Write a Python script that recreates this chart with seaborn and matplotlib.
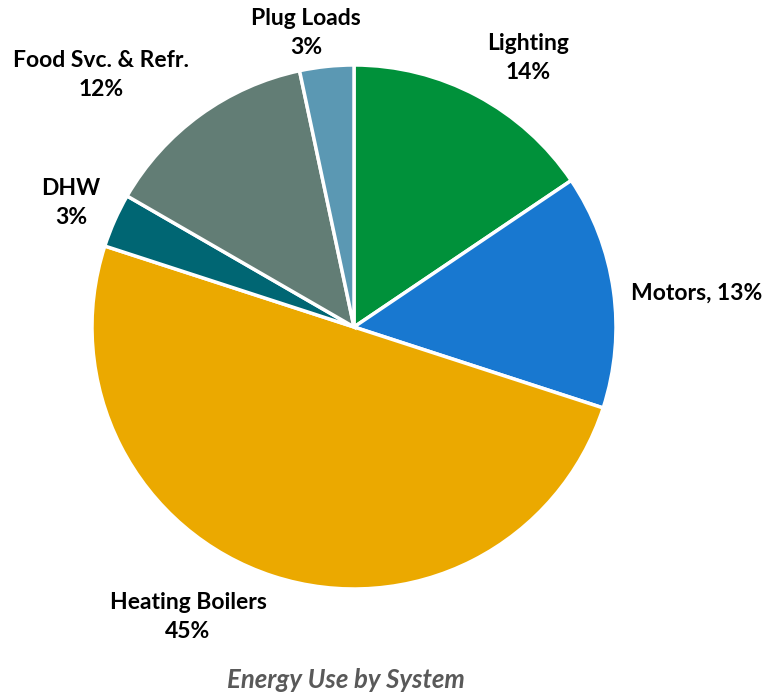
import matplotlib
matplotlib.use("Agg")
import matplotlib.pyplot as plt
import seaborn as sns

# Energy use shares by system, in percent
systems = ["Lighting", "Motors", "Heating Boilers", "DHW", "Food Svc. & Refr.", "Plug Loads"]
shares = [14, 13, 45, 3, 12, 3]
colors = ["#00913A", "#1878D0", "#EBA900", "#006673", "#627D75", "#5B98B3"]

sns.set_theme(style="white")
plt.rcParams["font.family"] = ["Lato", "DejaVu Sans"]

W, H = 765, 693
fig = plt.figure(figsize=(W / 100, H / 100), dpi=100)

# pie placed by pixel centre and radius
cx, cy, r = 354, 327, 262
ax = fig.add_axes([(cx - r) / W, 1 - (cy + r) / H, 2 * r / W, 2 * r / H])
ax.pie(shares, colors=colors, startangle=90, counterclock=False, radius=1,
       wedgeprops=dict(edgecolor="white", linewidth=2.5))
ax.set_xlim(-1, 1)
ax.set_ylim(-1, 1)
ax.set_aspect("equal")
ax.axis("off")

def label(text, x, y, **kw):
    fig.text(x / W, 1 - y / H, text, ha="center", va="center",
             fontsize=16.5, fontweight="bold", color="black", **kw)

pct = {s: f"{v}%" for s, v in zip(systems, shares)}
label(f"Plug Loads\n{pct['Plug Loads']}", 306, 33, linespacing=1.5)
label(f"Lighting\n{pct['Lighting']}", 528, 58, linespacing=1.5)
label(f"Motors, {pct['Motors']}", 697, 293)
label(f"Heating Boilers\n{pct['Heating Boilers']}", 188, 617, linespacing=1.5)
label(f"DHW\n{pct['DHW']}", 71, 203, linespacing=1.5)
label(f"Food Svc. & Refr.\n{pct['Food Svc. & Refr.']}", 101, 75, linespacing=1.5)

fig.text(346 / W, 1 - 680 / H, "Energy Use by System", ha="center", va="center",
         fontsize=18.5, fontweight="bold", fontstyle="italic", color="#595959")

fig.savefig("out.png", dpi=100, facecolor="white")
